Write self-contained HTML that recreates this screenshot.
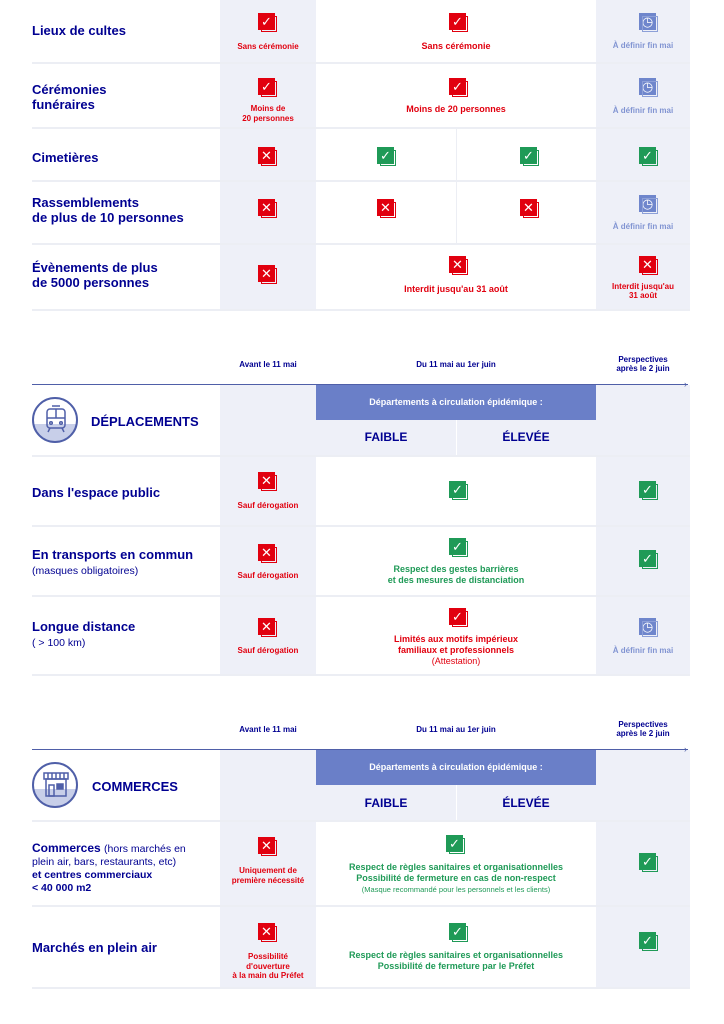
<!DOCTYPE html>
<html><head><meta charset="utf-8"><style>
body{margin:0;width:724px;height:1024px;background:#fff;position:relative;overflow:hidden;font-family:"Liberation Sans",sans-serif;font-weight:bold}
.a{position:absolute}
.bg{position:absolute;background:#eef0f8}
.sep{position:absolute;height:2px;background:#eceef4;left:32px;width:658px}
.lbl{position:absolute;left:32px;color:#000091;font-size:13px;line-height:15px}
.lbl small{font-size:10.5px;font-weight:normal}
.ic{position:absolute;width:19px;height:19px}
.ic i{position:absolute;left:0;top:0;width:17px;height:17px;color:#fff;font-style:normal;font-size:13px;line-height:17px;text-align:center;font-weight:normal}
.ic b{position:absolute;left:3px;top:3px;width:16px;height:16px;border:1px solid;box-sizing:border-box}
.r i{background:#e1000f}.r b{border-color:#e1000f}
.g i{background:#1f9a57}.g b{border-color:#1f9a57}
.c i{background:#6f86cc}.c b{border-color:#8da0d8}
.t{position:absolute;text-align:center;font-size:9px;line-height:11px}
.red{color:#e1000f}.grn{color:#1f9a57}.blu{color:#8194d2}
.hd{position:absolute;text-align:center;color:#000091;font-size:8px;line-height:9px}
.band{position:absolute;left:316px;width:280px;background:#6a7fc8;color:#fff;text-align:center;font-size:9px}
.fe{position:absolute;color:#000091;font-size:12px;text-align:center;width:140px}
.circ{position:absolute;left:32px;width:46px;height:46px;border:2px solid #4f5fa8;border-radius:50%;background:linear-gradient(#fff 60%,#c8cfe9 60%);box-sizing:border-box}
</style></head><body>
<div class="bg" style="left:220px;top:0;width:96px;height:310px"></div>
<div class="bg" style="left:596px;top:0;width:94px;height:310px"></div>
<div class="a" style="left:456px;top:127px;width:1px;height:116px;background:#eceef4"></div>
<div class="sep" style="top:62px"></div><div class="sep" style="top:127px"></div><div class="sep" style="top:180px"></div><div class="sep" style="top:243px"></div><div class="sep" style="top:309px"></div>

<div class="lbl" style="top:23px">Lieux de cultes</div>
<div class="lbl" style="top:82px">Cérémonies<br>funéraires</div>
<div class="lbl" style="top:150px">Cimetières</div>
<div class="lbl" style="top:195px">Rassemblements<br>de plus de 10 personnes</div>
<div class="lbl" style="top:260px">Évènements de plus<br>de 5000 personnes</div>

<div class="ic r" style="left:258px;top:13px"><i>✓</i><b></b></div>
<div class="t red" style="left:220px;width:96px;top:41px;font-size:8px">Sans cérémonie</div>
<div class="ic r" style="left:449px;top:13px"><i>✓</i><b></b></div>
<div class="t red" style="left:316px;width:280px;top:41px">Sans cérémonie</div>
<div class="ic c" style="left:639px;top:13px"><i>◷</i><b></b></div>
<div class="t blu" style="left:596px;width:94px;top:40px;font-size:8px">À définir fin mai</div>
<div class="ic r" style="left:258px;top:78px"><i>✓</i><b></b></div>
<div class="t red" style="left:220px;width:96px;top:104px;font-size:8px;line-height:10px">Moins de<br>20 personnes</div>
<div class="ic r" style="left:449px;top:78px"><i>✓</i><b></b></div>
<div class="t red" style="left:316px;width:280px;top:104px">Moins de 20 personnes</div>
<div class="ic c" style="left:639px;top:78px"><i>◷</i><b></b></div>
<div class="t blu" style="left:596px;width:94px;top:105px;font-size:8px">À définir fin mai</div>
<div class="ic r" style="left:258px;top:147px"><i>✕</i><b></b></div>
<div class="ic g" style="left:377px;top:147px"><i>✓</i><b></b></div>
<div class="ic g" style="left:520px;top:147px"><i>✓</i><b></b></div>
<div class="ic g" style="left:639px;top:147px"><i>✓</i><b></b></div>
<div class="ic r" style="left:258px;top:199px"><i>✕</i><b></b></div>
<div class="ic r" style="left:377px;top:199px"><i>✕</i><b></b></div>
<div class="ic r" style="left:520px;top:199px"><i>✕</i><b></b></div>
<div class="ic c" style="left:639px;top:195px"><i>◷</i><b></b></div>
<div class="t blu" style="left:596px;width:94px;top:221px;font-size:8px">À définir fin mai</div>
<div class="ic r" style="left:258px;top:265px"><i>✕</i><b></b></div>
<div class="ic r" style="left:449px;top:256px"><i>✕</i><b></b></div>
<div class="t red" style="left:316px;width:280px;top:284px">Interdit jusqu'au 31 août</div>
<div class="ic r" style="left:639px;top:256px"><i>✕</i><b></b></div>
<div class="t red" style="left:596px;width:94px;top:282px;font-size:8px;line-height:9px">Interdit jusqu'au<br>31 août</div>

<div class="bg" style="left:220px;top:340px;width:96px;height:335px;background:linear-gradient(#fff 45px,#eef0f8 45px)"></div>
<div class="bg" style="left:596px;top:340px;width:94px;height:335px;background:linear-gradient(#fff 45px,#eef0f8 45px)"></div>
<div class="bg" style="left:316px;top:420px;width:280px;height:35px"></div>
<div class="a" style="left:456px;top:420px;width:1px;height:35px;background:#fff"></div>
<div class="hd" style="left:220px;width:96px;top:360px">Avant le 11 mai</div>
<div class="hd" style="left:316px;width:280px;top:360px">Du 11 mai au 1er juin</div>
<div class="hd" style="left:596px;width:94px;top:355px">Perspectives<br>après le 2 juin</div>
<div class="a" style="left:32px;top:384px;width:656px;height:1px;background:#4f5fa8"></div>
<div class="a" style="left:684px;top:380px;color:#4f5fa8;font-size:9px;line-height:9px;font-weight:normal">›</div>
<div class="band" style="top:385px;height:35px;line-height:35px">Départements à circulation épidémique :</div>
<div class="fe" style="left:316px;top:430px">FAIBLE</div><div class="fe" style="left:456px;top:430px">ÉLEVÉE</div>
<div class="circ" style="top:397px"></div>
<svg class="a" style="left:43px;top:404px" width="26" height="30" viewBox="0 0 26 30" fill="none" stroke="#4f5fa8" stroke-width="1.5"><rect x="4" y="5" width="18" height="19" rx="3"/><line x1="4" y1="14" x2="22" y2="14"/><line x1="13" y1="5" x2="13" y2="14"/><line x1="9" y1="2" x2="17" y2="2"/><circle cx="8" cy="19" r="1.3"/><circle cx="18" cy="19" r="1.3"/><line x1="7" y1="24" x2="5" y2="28"/><line x1="19" y1="24" x2="21" y2="28"/></svg>
<div class="a" style="left:91px;top:414px;color:#000091;font-size:13px">DÉPLACEMENTS</div>
<div class="sep" style="top:455px"></div><div class="sep" style="top:525px"></div><div class="sep" style="top:595px"></div><div class="sep" style="top:674px"></div>
<div class="lbl" style="top:485px">Dans l'espace public</div>
<div class="lbl" style="top:547px">En transports en commun<br><small>(masques obligatoires)</small></div>
<div class="lbl" style="top:619px">Longue distance<br><small>( &gt; 100 km)</small></div>
<div class="ic r" style="left:258px;top:472px"><i>✕</i><b></b></div>
<div class="t red" style="left:220px;width:96px;top:500px;font-size:8px">Sauf dérogation</div>
<div class="ic g" style="left:449px;top:481px"><i>✓</i><b></b></div>
<div class="ic g" style="left:639px;top:481px"><i>✓</i><b></b></div>
<div class="ic r" style="left:258px;top:544px"><i>✕</i><b></b></div>
<div class="t red" style="left:220px;width:96px;top:570px;font-size:8px">Sauf dérogation</div>
<div class="ic g" style="left:449px;top:538px"><i>✓</i><b></b></div>
<div class="t grn" style="left:316px;width:280px;top:564px">Respect des gestes barrières<br>et des mesures de distanciation</div>
<div class="ic g" style="left:639px;top:550px"><i>✓</i><b></b></div>
<div class="ic r" style="left:258px;top:618px"><i>✕</i><b></b></div>
<div class="t red" style="left:220px;width:96px;top:645px;font-size:8px">Sauf dérogation</div>
<div class="ic r" style="left:449px;top:608px"><i>✓</i><b></b></div>
<div class="t red" style="left:316px;width:280px;top:634px">Limités aux motifs impérieux<br>familiaux et professionnels<br><span style="font-weight:normal">(Attestation)</span></div>
<div class="ic c" style="left:639px;top:618px"><i>◷</i><b></b></div>
<div class="t blu" style="left:596px;width:94px;top:645px;font-size:8px">À définir fin mai</div>

<div class="bg" style="left:220px;top:705px;width:96px;height:283px;background:linear-gradient(#fff 45px,#eef0f8 45px)"></div>
<div class="bg" style="left:596px;top:705px;width:94px;height:283px;background:linear-gradient(#fff 45px,#eef0f8 45px)"></div>
<div class="bg" style="left:316px;top:785px;width:280px;height:35px"></div>
<div class="a" style="left:456px;top:785px;width:1px;height:35px;background:#fff"></div>
<div class="hd" style="left:220px;width:96px;top:725px">Avant le 11 mai</div>
<div class="hd" style="left:316px;width:280px;top:725px">Du 11 mai au 1er juin</div>
<div class="hd" style="left:596px;width:94px;top:720px">Perspectives<br>après le 2 juin</div>
<div class="a" style="left:32px;top:749px;width:656px;height:1px;background:#4f5fa8"></div>
<div class="a" style="left:684px;top:745px;color:#4f5fa8;font-size:9px;line-height:9px;font-weight:normal">›</div>
<div class="band" style="top:750px;height:35px;line-height:35px">Départements à circulation épidémique :</div>
<div class="fe" style="left:316px;top:796px">FAIBLE</div><div class="fe" style="left:456px;top:796px">ÉLEVÉE</div>
<div class="circ" style="top:762px"></div>
<svg class="a" style="left:41px;top:770px" width="30" height="28" viewBox="0 0 30 28" fill="none" stroke="#4f5fa8" stroke-width="1.5"><rect x="3" y="3" width="24" height="6"/><line x1="7" y1="3" x2="7" y2="9"/><line x1="11" y1="3" x2="11" y2="9"/><line x1="15" y1="3" x2="15" y2="9"/><line x1="19" y1="3" x2="19" y2="9"/><line x1="23" y1="3" x2="23" y2="9"/><rect x="5" y="9" width="20" height="17"/><rect x="8" y="15" width="5" height="11"/><rect x="16" y="14" width="6" height="5" fill="#4f5fa8"/></svg>
<div class="a" style="left:92px;top:779px;color:#000091;font-size:13px">COMMERCES</div>
<div class="sep" style="top:820px"></div><div class="sep" style="top:905px"></div><div class="sep" style="top:987px"></div>
<div class="lbl" style="top:842px;font-size:12px;line-height:12px">Commerces <small>(hors marchés en<br>plein air, bars, restaurants, etc)</small><br><span style="font-size:10.5px">et centres commerciaux<br>&lt; 40 000 m2</span></div>
<div class="lbl" style="top:940px">Marchés en plein air</div>
<div class="ic r" style="left:258px;top:837px"><i>✕</i><b></b></div>
<div class="t red" style="left:220px;width:96px;top:866px;font-size:8px;line-height:10px">Uniquement de<br>première nécessité</div>
<div class="ic g" style="left:446px;top:835px"><i>✓</i><b></b></div>
<div class="t grn" style="left:316px;width:280px;top:862px">Respect de règles sanitaires et organisationnelles<br>Possibilité de fermeture en cas de non-respect<br><span style="font-weight:normal;font-size:7.5px">(Masque recommandé pour les personnels et les clients)</span></div>
<div class="ic g" style="left:639px;top:853px"><i>✓</i><b></b></div>
<div class="ic r" style="left:258px;top:923px"><i>✕</i><b></b></div>
<div class="t red" style="left:220px;width:96px;top:952px;font-size:8px;line-height:9.5px">Possibilité<br>d'ouverture<br>à la main du Préfet</div>
<div class="ic g" style="left:449px;top:923px"><i>✓</i><b></b></div>
<div class="t grn" style="left:316px;width:280px;top:950px">Respect de règles sanitaires et organisationnelles<br>Possibilité de fermeture par le Préfet</div>
<div class="ic g" style="left:639px;top:932px"><i>✓</i><b></b></div>
</body></html>
